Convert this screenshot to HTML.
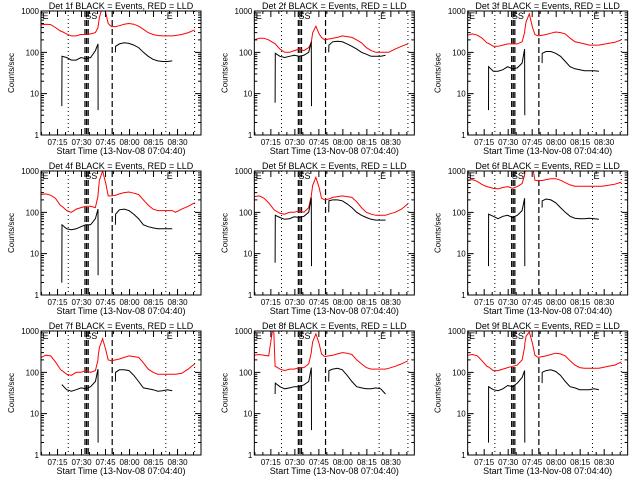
<!DOCTYPE html>
<html><head><meta charset="utf-8"><style>
html,body{margin:0;padding:0;background:#fff;}
svg{display:block;font-family:"Liberation Sans",sans-serif;}
</style></head><body>
<svg id="c" width="640" height="480" viewBox="0 0 640 480" xmlns="http://www.w3.org/2000/svg"></svg>
<script>
const times = [0,3,6,9,12,13,13.1,16,19,22,25,28,31,34,35.6,35.7,36.5,38.5,40.5,42,44,46.5,46.6,49,52,55,58,61,64,67,70,73,76,79,82,84,88,92,96];
const detLabels = ["1f","2f","3f","4f","5f","6f","7f","8f","9f"];
const tickLabels = ["07:15","07:30","07:45","08:00","08:15","08:30"];
const tickMinutes = [10.33,25.33,40.33,55.33,70.33,85.33];
const yTickValues = [1,10,100,1000];
const yTickLabels = ["1","10","100","1000"];
const dottedEvents = [17,78,96];
const dashedEvents = [27.5,28.5,29.5,44.5];
const N = null;
const red1 = [460,480,470,400,330,320,320,280,250,250,270,270,280,300,400,420,700,1300,900,500,420,420,420,440,480,500,480,430,360,300,270,255,250,250,250,255,270,300,350];
const black1 = [N,N,N,N,N,5,80,75,65,65,75,70,75,110,160,4,N,N,N,N,N,100,140,160,170,165,150,130,100,80,68,62,60,60,62,N,N,N,N];
const red2 = [200,220,220,200,170,160,160,120,100,100,110,120,110,130,170,190,300,430,280,230,200,210,210,220,230,250,240,230,200,170,130,110,100,100,100,100,120,140,160];
const black2 = [N,N,N,N,N,6,95,80,75,80,85,80,85,100,180,5,N,N,N,N,N,100,150,180,185,180,160,140,120,100,90,80,80,80,85,N,N,N,N];
const red3 = [260,280,260,220,170,165,165,140,140,150,160,160,160,180,300,350,550,850,400,270,250,260,260,270,290,310,300,280,220,180,170,160,150,150,150,155,165,175,200];
const black3 = [N,N,N,N,N,4,45,35,35,38,45,40,42,55,120,3,N,N,N,N,N,55,95,105,105,95,80,60,45,40,38,36,36,36,35,N,N,N,N];
const red4 = [270,280,260,220,150,140,140,110,100,120,130,140,140,130,250,280,600,1000,500,250,250,260,260,280,300,310,290,270,200,150,120,110,110,110,110,100,120,140,170];
const black4 = [N,N,N,N,N,2,50,40,38,40,45,50,50,70,120,3,N,N,N,N,N,50,90,115,120,110,90,70,50,45,42,40,40,40,40,N,N,N,N];
const red5 = [240,250,220,170,120,110,110,95,90,100,100,110,100,130,250,280,450,700,400,220,200,210,210,230,240,250,240,230,180,130,100,90,85,85,85,90,100,120,160];
const black5 = [N,N,N,N,N,6,85,75,68,70,78,75,80,100,230,5,N,N,N,N,N,100,190,200,200,190,160,130,100,85,75,68,65,65,65,N,N,N,N];
const red6 = [600,620,560,470,420,410,410,380,370,400,420,380,420,500,800,900,1300,1500,1300,600,580,590,590,620,650,650,600,520,460,430,430,430,430,430,430,430,450,480,540];
const black6 = [N,N,N,N,N,5,90,80,70,80,85,75,85,110,220,5,N,N,N,N,N,130,190,210,200,170,130,100,80,72,70,70,72,70,68,N,N,N,N];
const red7 = [230,260,250,180,120,110,110,90,85,100,100,110,100,110,200,240,400,650,350,200,190,200,200,210,230,250,240,230,170,120,100,90,90,90,90,90,95,120,160];
const black7 = [N,N,N,N,N,50,50,38,35,38,42,40,45,60,120,2,N,N,N,N,N,60,100,115,115,110,85,60,42,40,38,35,36,38,36,N,N,N,N];
const red8 = [260,270,260,250,1500,140,140,120,110,120,120,130,130,160,300,350,550,850,500,280,240,250,250,260,280,300,290,270,200,160,130,120,120,120,120,125,140,160,190];
const black8 = [N,N,N,N,N,30,55,45,40,42,45,45,50,60,130,4,N,N,N,N,N,60,110,120,125,115,85,60,45,42,40,40,42,40,30,N,N,N,N];
const red9 = [260,270,250,190,140,135,135,110,110,120,130,140,150,200,400,500,750,950,500,260,230,240,240,250,270,290,280,250,190,150,130,125,125,125,125,130,140,150,180];
const black9 = [N,N,N,N,N,2,45,38,36,40,48,45,55,75,110,2,N,N,N,N,N,55,100,110,115,105,85,60,45,42,38,38,38,40,38,N,N,N,N];
const reds = [red1,red2,red3,red4,red5,red6,red7,red8,red9];
const blacks = [black1,black2,black3,black4,black5,black6,black7,black8,black9];

const NS = "http://www.w3.org/2000/svg";
const svg = document.getElementById("c");
function mk(tag, attrs, parent){
  const e = document.createElementNS(NS, tag);
  for (const k in attrs) e.setAttribute(k, attrs[k]);
  (parent||svg).appendChild(e);
  return e;
}
const defs = mk("defs", {});
for (let p = 0; p < 9; p++) {
  const c = p % 3, r = Math.floor(p / 3);
  const ox = c * 213.33, oy = r * 160;
  const L = ox + 41, R = ox + 201, T = oy + 11, B = oy + 135;
  const xs = t => L + t * 1.6;
  const ys = v => B - Math.log10(v) * 41.33;
  const g = mk("g", {});
  
  
  const cp = mk("clipPath", {id: "cp" + p}, defs);
  mk("rect", {x: L, y: T, width: R - L, height: B - T}, cp);

  const title = mk("text", {x: ox + 121, y: oy + 9, "font-size": 9, "text-anchor": "middle", fill: "#000"}, g);
  title.textContent = "Det " + detLabels[p] + " BLACK = Events, RED = LLD";
  
  

  dottedEvents.forEach(t => {
    const l = mk("line", {x1: xs(t), x2: xs(t), y1: T, y2: B, stroke: "#000", "stroke-width": 1, "stroke-dasharray": "1,3"}, g);
    
    
  });
  dashedEvents.forEach(t => {
    const l = mk("line", {x1: xs(t), x2: xs(t), y1: T, y2: B, stroke: "#000", "stroke-width": 1.2, "stroke-dasharray": "6,3"}, g);
    
    
  });
  [[0.3,"E"],[78,"E"],[27,"SS"]].forEach(([t, s]) => {
    const e = mk("text", {x: xs(t) + 1, y: T + 8, "font-size": 9, fill: "#000"}, g);
    e.textContent = s;
    
    
  });

  function drawSeries(vals, color, name) {
    let d = "", pen = false;
    for (let i = 0; i < times.length; i++) {
      const v = vals[i];
      if (v === null || v === undefined) { pen = false; continue; }
      d += (pen ? "L" : "M") + xs(times[i]).toFixed(1) + "," + ys(v).toFixed(1);
      pen = true;
    }
    const pth = mk("path", {d: d, fill: "none", stroke: color, "stroke-width": 1, "clip-path": "url(#cp" + p + ")"}, g);
    
    
  }
  drawSeries(reds[p], "#ff0000", "lld-red-series");
  drawSeries(blacks[p], "#000000", "events-black-series");

  const box = mk("rect", {x: L, y: T, width: R - L, height: B - T, fill: "none", stroke: "#000", "stroke-width": 1}, g);
  
  

  let tk = "";
  for (let dcd = 0; dcd < 3; dcd++) {
    for (let m = 2; m <= 9; m++) {
      const yy = ys(m * Math.pow(10, dcd));
      tk += `M${L},${yy}h3M${R},${yy}h-3`;
    }
  }
  yTickValues.forEach((v, i) => {
    const yy = ys(v);
    tk += `M${L},${yy}h6M${R},${yy}h-6`;
    const t = mk("text", {x: L - 2, y: yy + 3, "font-size": 8, "text-anchor": "end", fill: "#000"}, g);
    t.textContent = yTickLabels[i];
    
    
  });
  for (let m = 0.33; m <= 100; m += 5) {
    const xx = xs(m);
    tk += `M${xx},${B}v-3M${xx},${T}v3`;
  }
  tickMinutes.forEach((m, i) => {
    const xx = xs(m);
    tk += `M${xx},${B}v-6M${xx},${T}v6`;
    const t = mk("text", {x: xx, y: B + 10, "font-size": 8, "text-anchor": "middle", fill: "#000"}, g);
    t.textContent = tickLabels[i];
    
    
  });
  const ticks = mk("path", {d: tk, stroke: "#000", "stroke-width": 1, fill: "none"}, g);
  
  

  const xt = mk("text", {x: ox + 121, y: oy + 154, "font-size": 9, "text-anchor": "middle", fill: "#000"}, g);
  xt.textContent = "Start Time (13-Nov-08 07:04:40)";
  
  
  const yt = mk("text", {x: 0, y: 0, "font-size": 8, "text-anchor": "middle", fill: "#000", transform: `translate(${ox + 14},${oy + 73}) rotate(-90)`}, g);
  yt.textContent = "Counts/sec";
  
  
}
</script>
</body></html>
